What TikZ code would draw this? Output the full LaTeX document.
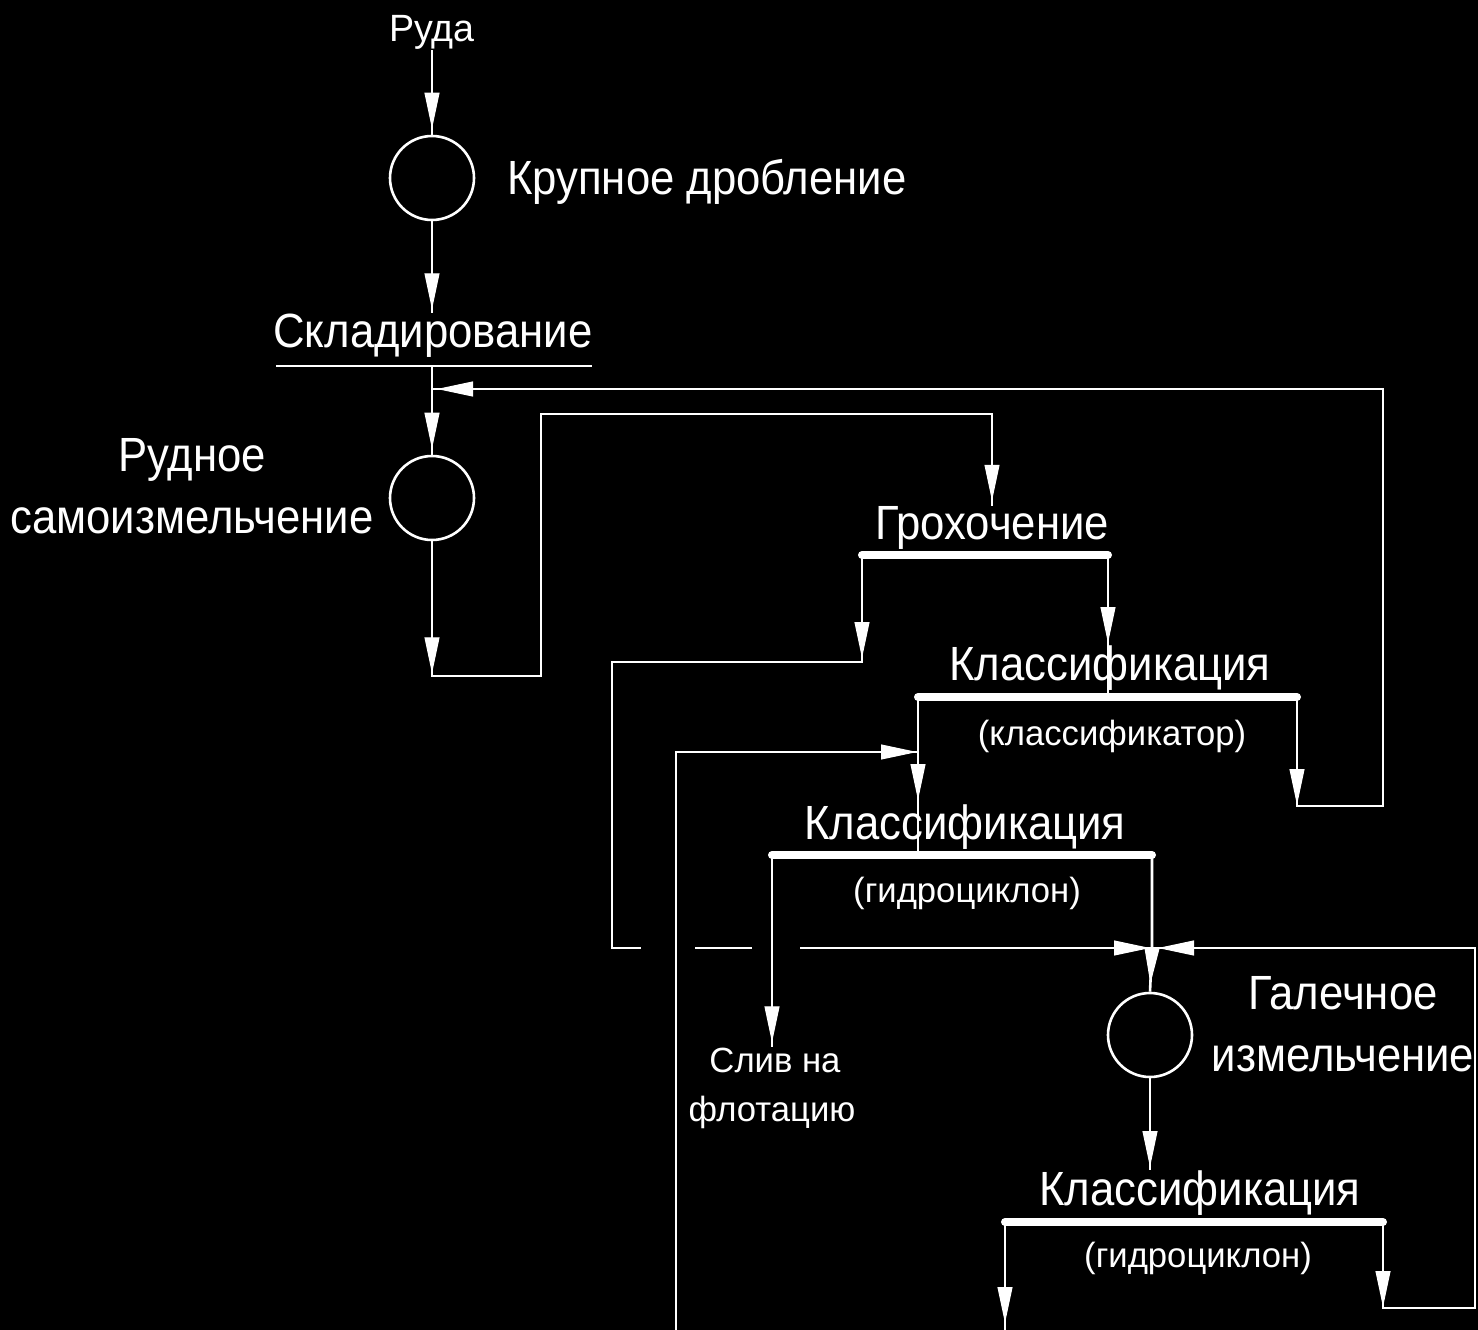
\documentclass[tikz,border=0pt]{standalone}
\usepackage{fontspec}
\setmainfont{Liberation Sans}
\newfontfamily\labelfont{Liberation Sans}[FakeStretch=0.91]
\newfontfamily\notefont{Liberation Sans}[FakeStretch=0.99]
\usetikzlibrary{arrows.meta,decorations.markings}

\begin{document}
\begin{tikzpicture}[x=1pt,y=-1pt,
  flowtip/.tip={Triangle[length=36pt,width=15pt]},
  wire/.style={draw=white, line width=2.6pt},
  bar/.style={draw=white, line width=8pt, line cap=round},
  tipat/.style={postaction={decorate, decoration={markings,
      mark=at position #1 with {\arrow[white, line width=1pt]{flowtip}}}}},
  unit/.style={circle, draw=white, line width=2.6pt, minimum size=84pt, inner sep=0pt},
  big/.style={text=white, font=\labelfont\fontsize{48}{50}\selectfont, inner sep=0pt, anchor=base},
  small/.style={text=white, font=\notefont\fontsize{35}{37}\selectfont, inner sep=0pt, anchor=base},
]
% canvas
\fill[black] (0,0) rectangle (1478,1330);
\useasboundingbox (0,0) rectangle (1478,1330);

% process units (mills / crushers)
\node[unit] (c1) at (432,178) {};
\node[unit] (c2) at (432,498) {};
\node[unit] (c3) at (1150,1035) {};

% labels
\node[small, font=\notefont\fontsize{38}{40}\selectfont] (ruda) at (432,42) {Руда};
\node[big, anchor=base west] (crush) at (507,194) {Крупное дробление};
\node[big] (sklad) at (433,347) {Складирование};
\node[big] (rud1) at (192,471) {Рудное};
\node[big] (rud2) at (192,533) {самоизмельчение};
\node[big] (grokh) at (992,539) {Грохочение};
\node[big] (klass1) at (1110,680) {Классификация};
\node[small] (note1) at (1112,745) {(классификатор)};
\node[big] (klass2) at (965,839) {Классификация};
\node[small] (note2) at (967,902) {(гидроциклон)};
\node[small] (sliv1) at (775,1072) {Слив на};
\node[small] (sliv2) at (772,1121) {флотацию};
\node[big] (gal1) at (1343,1009) {Галечное};
\node[big] (gal2) at (1343,1071) {измельчение};
\node[big] (klass3) at (1200,1205) {Классификация};
\node[small] (note3) at (1198,1267) {(гидроциклон)};

% bars of screening / classification stages
\coordinate (b1l) at (862,555);  \coordinate (b1r) at (1108,555);
\coordinate (b2l) at (918,697);  \coordinate (b2r) at (1297,697);
\coordinate (b3l) at (772,855);  \coordinate (b3r) at (1152,855);
\coordinate (b4l) at (1005,1222); \coordinate (b4r) at (1383,1222);
\draw[bar] (b1l) -- (b1r);
\draw[bar] (b2l) -- (b2r);
\draw[bar] (b3l) -- (b3r);
\draw[bar] (b4l) -- (b4r);

% stockpile line
\coordinate (ul-l) at (276,366); \coordinate (ul-r) at (592,366);
\coordinate (ul-m) at (432,366);
\draw[wire] (ul-l) -- (ul-r);

% auxiliary corner points
\coordinate (join1) at (432,389);
\coordinate (grA) at (432,676); \coordinate (grB) at (541,676);
\coordinate (grC) at (541,414); \coordinate (grD) at (992,414);
\coordinate (s1) at (862,662); \coordinate (s2) at (612,662); \coordinate (s3) at (612,948);
\coordinate (g1) at (641,948); \coordinate (g2) at (695,948);
\coordinate (g3) at (752,948); \coordinate (g4) at (800,948);
\coordinate (junc) at (1152,948);
\coordinate (k1in) at (1108,697);
\coordinate (k2in) at (918,855);
\coordinate (bot1) at (676,1330); \coordinate (rin) at (676,752); \coordinate (k2side) at (918,752);
\coordinate (fb1) at (1297,806); \coordinate (fb2) at (1383,806); \coordinate (fb3) at (1383,389);
\coordinate (bot2) at (1005,1330);
\coordinate (pb1) at (1383,1308); \coordinate (pb2) at (1475,1308); \coordinate (pb3) at (1475,948);

% flows
\draw[wire, tipat=-6pt] (ruda.south) -- (c1.north);
\draw[wire, tipat=-4pt] (c1.south) -- (c1.south |- sklad.north);
\draw[wire, tipat=-6pt] (ul-m) -- (c2.north);
\draw[wire, tipat=132pt, tipat=-5pt] (c2.south) -- (grA) -- (grB) -- (grC) -- (grD) -- (grD |- grokh.north);
\draw[wire, tipat=103pt] (b1l) -- (s1) -- (s2) -- (s3) -- (g1);
\draw[wire] (g2) -- (g3);
\draw[wire, tipat=-2pt] (g4) -- (junc);
\draw[wire, tipat=88pt] (b1r) -- (k1in);
\draw[wire, tipat=103pt] (b2l) -- (k2in);
\draw[wire, tipat=-1pt] (bot1) -- (rin) -- (k2side);
\draw[wire, tipat=108pt, tipat=-5pt] (b2r) -- (fb1) -- (fb2) -- (fb3) -- (join1);
\draw[wire, tipat=-5pt] (b3l) -- (b3l |- sliv1.north);
\draw[wire, tipat=-8pt] (b3r) -- (junc) -- (c3.north);
\draw[wire, tipat=-3pt] (c3.south) -- (c3.south |- klass3.north);
\draw[wire, tipat=-7pt] (b4l) -- (bot2);
\draw[wire, tipat=85pt, tipat=-6pt] (b4r) -- (pb1) -- (pb2) -- (pb3) -- (junc);
\end{tikzpicture}
\end{document}
